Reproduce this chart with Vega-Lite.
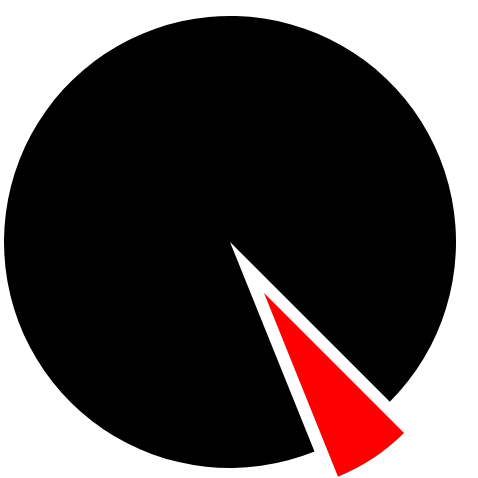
{
  "$schema": "https://vega.github.io/schema/vega-lite/v6.json",
  "autosize": "none",
  "padding": 0,
  "width": 460,
  "height": 484,
  "background": "white",
  "data": {"values": [
    {"category": "B", "value": 6.4, "order": 1},
    {"category": "A", "value": 93.6, "order": 2}
  ]},
  "transform": [
    {"stack": "value", "groupby": [], "sort": [{"field": "order"}], "as": ["v0", "v1"]}
  ],
  "layer": [
    {
      "transform": [{"filter": "datum.category == 'A'"}],
      "mark": {"type": "arc", "outerRadius": 226, "fill": "black"},
      "encoding": {
        "theta": {"field": "v0", "type": "quantitative", "stack": null, "scale": {"domain": [0, 100], "range": [2.3562, 8.6394]}},
        "theta2": {"field": "v1"}
      }
    },
    {
      "transform": [{"filter": "datum.category == 'B'"}],
      "mark": {"type": "arc", "outerRadius": 198, "fill": "red", "xOffset": 34, "yOffset": 51},
      "encoding": {
        "theta": {"field": "v0", "type": "quantitative", "stack": null, "scale": {"domain": [0, 100], "range": [2.3562, 8.6394]}},
        "theta2": {"field": "v1"}
      }
    }
  ]
}
